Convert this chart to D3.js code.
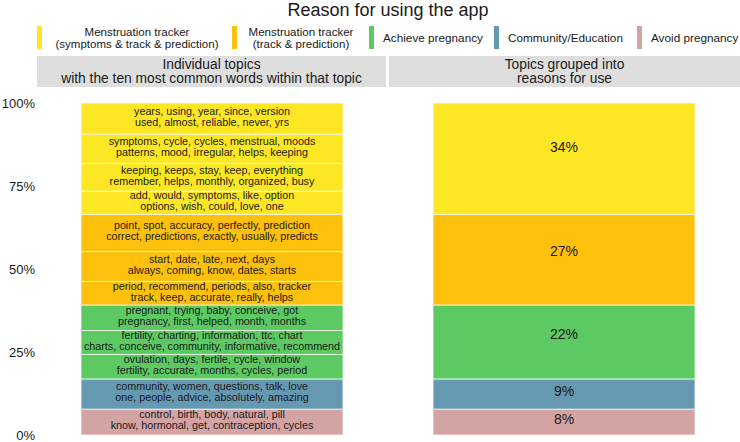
<!DOCTYPE html>
<html>
<head>
<meta charset="utf-8">
<title>Reason for using the app</title>
<script src="https://d3js.org/d3.v7.min.js"></script>
<style>
  body { margin: 0; background: #fff; }
  svg text { font-family: "Liberation Sans", Arial, Helvetica, sans-serif; fill: #1a1a1a; }
</style>
</head>
<body>
<div id="chart"></div>
<script>
// reasons (groups), from bottom of the stack to the top
var groupKeys = ["avoid", "community", "achieve", "track", "symptoms"];
var groupLabels = {
  symptoms: ["Menstruation tracker", "(symptoms & track & prediction)"],
  track: ["Menstruation tracker", "(track & prediction)"],
  achieve: ["Achieve pregnancy"],
  community: ["Community/Education"],
  avoid: ["Avoid pregnancy"]
};
var groupColors = ["#d4a4a4", "#6599b2", "#5cc963", "#fdc00c", "#fde725"];

// topics, bottom to top: group, share in %, and the ten words (two lines)
var topicGroup = ["avoid", "community", "achieve", "achieve", "achieve",
                  "track", "track", "track",
                  "symptoms", "symptoms", "symptoms", "symptoms"];
var topicShare = [7.8, 9.1, 7.4, 7.2, 7.7, 7.1, 9.0, 11.2, 7.0, 8.4, 8.8, 9.4];
var topicLine1 = [
  "control, birth, body, natural, pill",
  "community, women, questions, talk, love",
  "ovulation, days, fertile, cycle, window",
  "fertility, charting, information, ttc, chart",
  "pregnant, trying, baby, conceive, got",
  "period, recommend, periods, also, tracker",
  "start, date, late, next, days",
  "point, spot, accuracy, perfectly, prediction",
  "add, would, symptoms, like, option",
  "keeping, keeps, stay, keep, everything",
  "symptoms, cycle, cycles, menstrual, moods",
  "years, using, year, since, version"
];
var topicLine2 = [
  "know, hormonal, get, contraception, cycles",
  "one, people, advice, absolutely, amazing",
  "fertility, accurate, months, cycles, period",
  "charts, conceive, community, informative, recommend",
  "pregnancy, first, helped, month, months",
  "track, keep, accurate, really, helps",
  "always, coming, know, dates, starts",
  "correct, predictions, exactly, usually, predicts",
  "options, wish, could, love, one",
  "remember, helps, monthly, organized, busy",
  "patterns, mood, irregular, helps, keeping",
  "used, almost, reliable, never, yrs"
];
var columns = ["topics", "groups"];
var yTicks = [0, 25, 50, 75, 100];

var width = 740, height = 442;

var svg = d3.select("#chart").append("svg")
  .attr("width", width)
  .attr("height", height);

var color = d3.scaleOrdinal().domain(groupKeys).range(groupColors);

var x = d3.scaleBand().domain(columns).range([81, 695])
  .paddingInner(0.2557).paddingOuter(0);
var y = d3.scaleLinear().domain([0, 100]).range([435, 103.3]);

// title
svg.append("text")
  .attr("x", 388).attr("y", 15.5)
  .attr("text-anchor", "middle")
  .style("font-size", "18px")
  .text("Reason for using the app");

// legend
var legendX = [637, 494, 369, 232, 37];
var legend = svg.selectAll(".legend")
  .data(groupKeys)
  .enter().append("g")
  .attr("class", "legend")
  .attr("transform", function(d, i) { return "translate(" + legendX[i] + ",0)"; });

legend.append("rect")
  .attr("x", 0).attr("y", 26)
  .attr("width", 5).attr("height", 23)
  .attr("fill", function(d) { return color(d); });

legend.each(function(d) {
  var g = d3.select(this);
  var lines = groupLabels[d];
  if (lines.length == 2) {
    // two lines, centred next to the swatch
    var cx = d == "symptoms" ? 100 : 69;
    lines.forEach(function(t, j) {
      g.append("text")
        .attr("x", cx).attr("y", 35.5 + j * 12.5)
        .attr("text-anchor", "middle")
        .style("font-size", "11.5px")
        .text(t);
    });
  } else {
    g.append("text")
      .attr("x", 14).attr("y", 41.5)
      .style("font-size", "11.75px")
      .text(lines[0]);
  }
});

// grey header strips
var strips = [
  {x0: 37, x1: 386, lines: ["Individual topics", "with the ten most common words within that topic"]},
  {x0: 389, x1: 740, lines: ["Topics grouped into", "reasons for use"]}
];
strips.forEach(function(s) {
  svg.append("rect")
    .attr("x", s.x0).attr("y", 56)
    .attr("width", s.x1 - s.x0).attr("height", 31)
    .attr("fill", "#dedede");
  s.lines.forEach(function(t, j) {
    svg.append("text")
      .attr("x", (s.x0 + s.x1) / 2).attr("y", 68.5 + j * 14.5)
      .attr("text-anchor", "middle")
      .style("font-size", "13.8px")
      .text(t);
  });
});

// y axis, labels only
var yAxis = svg.append("g")
  .attr("transform", "translate(35,0)")
  .call(d3.axisLeft(y).tickValues(yTicks).tickSize(0).tickPadding(0)
    .tickFormat(function(d) { return d + "%"; }));
yAxis.select(".domain").remove();
yAxis.selectAll("text")
  .style("font-size", "13px")
  .style("font-family", "'Liberation Sans', Arial, sans-serif")
  .attr("fill", "#666");

// left column: one segment per topic
var cum = 0;
var topics = topicShare.map(function(v, i) {
  var t = {group: topicGroup[i], y0: cum, y1: cum + v, l1: topicLine1[i], l2: topicLine2[i]};
  cum += v;
  return t;
});

svg.selectAll(".topic")
  .data(topics)
  .enter().append("rect")
  .attr("class", "topic")
  .attr("x", x("topics"))
  .attr("width", x.bandwidth())
  .attr("y", function(d) { return y(d.y1); })
  .attr("height", function(d) { return y(d.y0) - y(d.y1); })
  .attr("fill", function(d) { return color(d.group); })
  .attr("stroke", "#fff")
  .attr("stroke-opacity", 0.7)
  .attr("stroke-width", 1);

var topicText = svg.selectAll(".topicText")
  .data(topics)
  .enter().append("g")
  .attr("class", "topicText")
  .attr("transform", function(d) {
    var c = y(d.y1) + 0.42 * (y(d.y0) - y(d.y1));
    return "translate(" + (x("topics") + x.bandwidth() / 2) + "," + c + ")";
  });
topicText.append("text")
  .attr("y", -1.5)
  .attr("text-anchor", "middle")
  .style("font-size", "10.75px")
  .text(function(d) { return d.l1; });
topicText.append("text")
  .attr("y", 9.5)
  .attr("text-anchor", "middle")
  .style("font-size", "10.75px")
  .text(function(d) { return d.l2; });

// right column: topics summed by reason
var sums = d3.rollup(topics, function(v) { return d3.sum(v, function(d) { return d.y1 - d.y0; }); },
  function(d) { return d.group; });
cum = 0;
var groups = groupKeys.map(function(k) {
  var v = sums.get(k);
  var g = {group: k, value: v, y0: cum, y1: cum + v};
  cum += v;
  return g;
});

svg.selectAll(".group")
  .data(groups)
  .enter().append("rect")
  .attr("class", "group")
  .attr("x", x("groups"))
  .attr("width", x.bandwidth())
  .attr("y", function(d) { return y(d.y1); })
  .attr("height", function(d) { return y(d.y0) - y(d.y1); })
  .attr("fill", function(d) { return color(d.group); })
  .attr("stroke", "#fff")
  .attr("stroke-opacity", 0.7)
  .attr("stroke-width", 1);

svg.selectAll(".groupText")
  .data(groups)
  .enter().append("text")
  .attr("class", "groupText")
  .attr("x", x("groups") + x.bandwidth() / 2)
  .attr("y", function(d) { return y(d.y1) + 0.4 * (y(d.y0) - y(d.y1)); })
  .attr("dy", "0.35em")
  .attr("text-anchor", "middle")
  .style("font-size", "14px")
  .text(function(d) { return Math.round(d.value) + "%"; });
</script>
</body>
</html>
